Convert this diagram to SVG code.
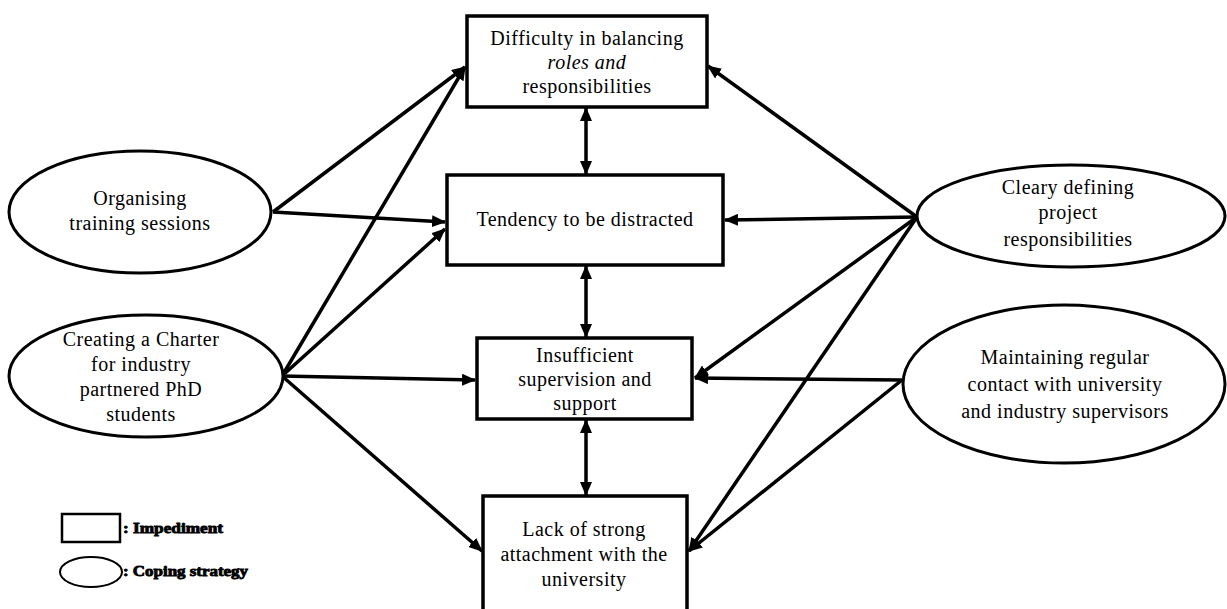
<svg xmlns="http://www.w3.org/2000/svg" width="1227" height="609" viewBox="0 0 1227 609">
<style>
.box{fill:#fff;stroke:#000;stroke-width:3.5}
.ell{fill:#fff;stroke:#000;stroke-width:3}
.t{font-family:'Liberation Serif','DejaVu Serif','Times New Roman',serif;font-size:20px;letter-spacing:0.5px;fill:#000;text-anchor:middle}
.it{font-style:italic}
.lg{font-family:'Liberation Serif','DejaVu Serif','Times New Roman',serif;font-size:14px;font-weight:bold;fill:#000;stroke:#000;stroke-width:0.8}
.c{stroke:#000;stroke-width:3.5;fill:none;marker-end:url(#ah)}
.d{stroke:#000;stroke-width:3.5;fill:none;marker-end:url(#ah);marker-start:url(#ah)}
</style>
<defs>
<marker id="ah" markerWidth="14" markerHeight="12" refX="13" refY="6" orient="auto-start-reverse" markerUnits="userSpaceOnUse">
<path d="M0,0 L14,6 L0,12 z" fill="#000"/>
</marker>
</defs>
<rect width="1227" height="609" fill="#fff"/>
<g id="connectors">
<line class="c" x1="273" y1="212" x2="465" y2="67"/>
<line class="c" x1="273" y1="212" x2="445" y2="222"/>
<line class="c" x1="282" y1="376" x2="465" y2="67"/>
<line class="c" x1="282" y1="376" x2="445" y2="229"/>
<line class="c" x1="282" y1="376" x2="475" y2="380"/>
<line class="c" x1="282" y1="376" x2="482" y2="551"/>
<line class="c" x1="917" y1="217" x2="708" y2="66"/>
<line class="c" x1="917" y1="217" x2="725" y2="220"/>
<line class="c" x1="917" y1="217" x2="695" y2="378"/>
<line class="c" x1="917" y1="217" x2="689" y2="551"/>
<line class="c" x1="902" y1="380" x2="695" y2="378"/>
<line class="c" x1="902" y1="380" x2="689" y2="551"/>
<line class="d" x1="586" y1="108" x2="586" y2="174"/>
<line class="d" x1="586" y1="266" x2="586" y2="337"/>
<line class="d" x1="586" y1="420" x2="586" y2="495"/>
</g>
<g id="box-difficulty">
<rect class="box" x="467" y="16" width="240" height="91"/>
<text class="t" x="587" y="45">Difficulty in balancing</text>
<text class="t it" x="587" y="69">roles and</text>
<text class="t" x="587" y="93">responsibilities</text>
</g>
<g id="box-tendency">
<rect class="box" x="447" y="175" width="276" height="90"/>
<text class="t" x="585" y="226">Tendency to be distracted</text>
</g>
<g id="box-insufficient">
<rect class="box" x="477" y="338" width="215" height="81"/>
<text class="t" x="585" y="362">Insufficient</text>
<text class="t" x="585" y="386">supervision and</text>
<text class="t" x="585" y="410">support</text>
</g>
<g id="box-lack">
<path class="box" d="M483,612 V496 H687 V612"/>
<text class="t" x="584" y="536">Lack of strong</text>
<text class="t" x="584" y="561">attachment with the</text>
<text class="t" x="584" y="586">university</text>
</g>
<g id="ell-organising">
<ellipse class="ell" cx="140" cy="212" rx="131" ry="61"/>
<text class="t" x="140" y="205">Organising</text>
<text class="t" x="140" y="230">training sessions</text>
</g>
<g id="ell-charter">
<ellipse class="ell" cx="146" cy="376" rx="137" ry="61"/>
<text class="t" x="141" y="346">Creating a Charter</text>
<text class="t" x="141" y="371">for industry</text>
<text class="t" x="141" y="396">partnered PhD</text>
<text class="t" x="141" y="421">students</text>
</g>
<g id="ell-cleary">
<ellipse class="ell" cx="1071" cy="216" rx="154" ry="51"/>
<text class="t" x="1068" y="194">Cleary defining</text>
<text class="t" x="1068" y="219">project</text>
<text class="t" x="1068" y="246">responsibilities</text>
</g>
<g id="ell-maintaining">
<ellipse class="ell" cx="1064" cy="384" rx="161" ry="79"/>
<text class="t" x="1065" y="364">Maintaining regular</text>
<text class="t" x="1065" y="391">contact with university</text>
<text class="t" x="1065" y="418">and industry supervisors</text>
</g>
<g id="legend">
<rect x="62" y="514" width="58" height="28" fill="#fff" stroke="#000" stroke-width="2.5"/>
<text class="lg" x="123" y="533" textLength="100" lengthAdjust="spacingAndGlyphs">: Impediment</text>
<ellipse cx="91" cy="572" rx="31" ry="15" fill="#fff" stroke="#000" stroke-width="2"/>
<text class="lg" x="123" y="576" textLength="125" lengthAdjust="spacingAndGlyphs">: Coping strategy</text>
</g>
</svg>
